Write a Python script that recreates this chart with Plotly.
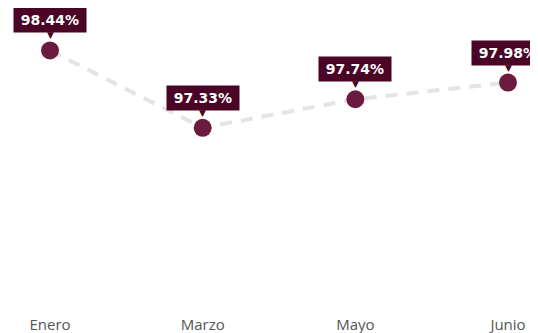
import plotly.graph_objects as go

# datos
meses = ["Enero", "Marzo", "Mayo", "Junio"]
valores = [98.44, 97.33, 97.74, 97.98]

color_punto = "#6a1b3f"
color_etiqueta = "#4a0426"

fig = go.Figure()

# línea discontinua gris
fig.add_trace(go.Scatter(
    x=meses,
    y=valores,
    mode="lines",
    line=dict(color="#e4e4e4", width=4, dash="12px,9px"),
    hoverinfo="skip",
))

# puntos
fig.add_trace(go.Scatter(
    x=meses,
    y=valores,
    mode="markers",
    marker=dict(size=18, color=color_punto),
))

# etiquetas con el valor
for mes, v in zip(meses, valores):
    fig.add_annotation(
        x=mes, y=v,
        text=f"\u2009<b>{v:.2f}%</b>\u2009",
        showarrow=False,
        yshift=30,
        bgcolor=color_etiqueta,
        borderpad=4,
        font=dict(family="DejaVu Sans", size=14, color="white"),
    )
    fig.add_annotation(
        x=mes, y=v,
        text="▼",
        showarrow=False,
        yshift=15,
        font=dict(family="DejaVu Sans", size=9, color=color_etiqueta),
    )

# la página tiene 8px de margen en el body
fig.update_layout(
    width=530,
    height=325,
    margin=dict(l=0, r=0, t=0, b=30),
    paper_bgcolor="white",
    plot_bgcolor="white",
    showlegend=False,
)

fig.update_xaxes(
    type="category",
    range=[-0.2751, 3.1965],
    showgrid=False,
    zeroline=False,
    showline=False,
    ticks="",
    ticklabelstandoff=11,
    tickfont=dict(family="Open Sans, sans-serif", size=15, color="#555555"),
)
fig.update_yaxes(
    range=[94.817, 99.049],
    visible=False,
    showgrid=False,
    zeroline=False,
)

fig.write_html("out.html")
